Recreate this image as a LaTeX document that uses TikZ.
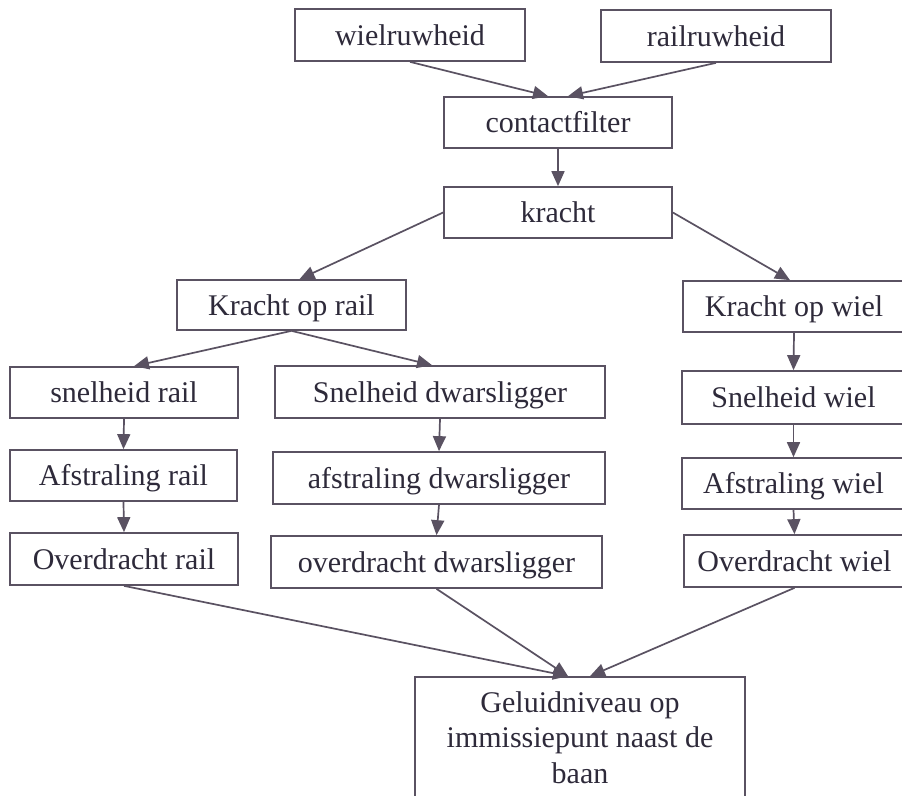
\documentclass[tikz,border=0pt]{standalone}
\usepackage{fontspec}
\setmainfont{Liberation Serif}
\usetikzlibrary{arrows.meta}
\definecolor{linec}{HTML}{5A5262}
\definecolor{textc}{HTML}{2E2A3A}
\tikzset{
  box/.style={draw=linec, line width=1.7pt, rectangle, inner sep=0pt,
    text=textc, font=\fontsize{30}{35.5}\selectfont,
    text height=20pt, text depth=0pt},
  arr/.style={draw=linec, line width=1.7pt,
    -{Triangle[length=15pt,width=13pt]}}
}
\begin{document}
\begin{tikzpicture}[x=1pt,y=-1pt]
\useasboundingbox (0,0) rectangle (902,795);
\fill[white] (0,0) rectangle (902,795);
\clip (0,0) rectangle (902,795);
% row 1
\node[box, minimum width=230pt, minimum height=52pt] (wiel) at (410,35) {wielruwheid};
\node[box, minimum width=230pt, minimum height=52pt] (rail) at (716,36) {railruwheid};
\node[box, minimum width=228pt, minimum height=51pt] (contact) at (558,122.5) {contactfilter};
\node[box, minimum width=228pt, minimum height=51pt] (kracht) at (558,212.5) {kracht};
% forces
\node[box, minimum width=229pt, minimum height=50pt] (kor) at (291.5,305) {Kracht op rail};
\node[box, minimum width=222pt, minimum height=51pt] (kow) at (794,306.5) {Kracht op wiel};
% velocities
\node[box, minimum width=228pt, minimum height=51pt] (sr) at (124,392.5) {snelheid rail};
\node[box, minimum width=330pt, minimum height=52pt] (sd) at (440,392) {Snelheid dwarsligger};
\node[box, minimum width=223pt, minimum height=53pt] (sw) at (793.5,397.5) {Snelheid wiel};
% radiation
\node[box, minimum width=227pt, minimum height=51pt] (ar) at (123.5,475.5) {Afstraling rail};
\node[box, minimum width=332pt, minimum height=52pt] (ad) at (439,478) {afstraling dwarsligger};
\node[box, minimum width=223pt, minimum height=51pt] (aw) at (793.5,483.5) {Afstraling wiel};
% transfer
\node[box, minimum width=228pt, minimum height=52pt] (or) at (124,559) {Overdracht rail};
\node[box, minimum width=331pt, minimum height=52pt] (od) at (436.5,562) {overdracht dwarsligger};
\node[box, minimum width=221pt, minimum height=52pt] (ow) at (794.5,561) {Overdracht wiel};
% result
\node[box, minimum width=330pt, minimum height=133pt, align=center,
      text height=91pt, text depth=12pt] (gel) at (580,743.5)
      {Geluidniveau op\\immissiepunt naast de\\baan};
% connectors
\draw[arr] (wiel.south) -- ([xshift=-10pt]contact.north);
\draw[arr] (rail.south) -- ([xshift=10pt]contact.north);
\draw[arr] (contact.south) -- (kracht.north);
\draw[arr] (kracht.west) -- ([xshift=8pt]kor.north);
\draw[arr] (kracht.east) -- ([xshift=-4pt]kow.north);
\draw[arr] (kor.south) -- ([xshift=10pt]sr.north);
\draw[arr] (kor.south) -- ([xshift=-8pt]sd.north);
\draw[arr] (kow.south) -- (sw.north);
\draw[arr] (sr.south) -- (ar.north);
\draw[arr] (ar.south) -- (or.north);
\draw[arr] (sd.south) -- (ad.north);
\draw[arr] (ad.south) -- (od.north);
\draw[arr] (sw.south) -- (aw.north);
\draw[arr] (aw.south) -- (ow.north);
\draw[arr] (or.south) -- ([xshift=-12pt]gel.north);
\draw[arr] (od.south) -- ([xshift=-12pt]gel.north);
\draw[arr] (ow.south) -- ([xshift=10pt]gel.north);
\end{tikzpicture}
\end{document}
